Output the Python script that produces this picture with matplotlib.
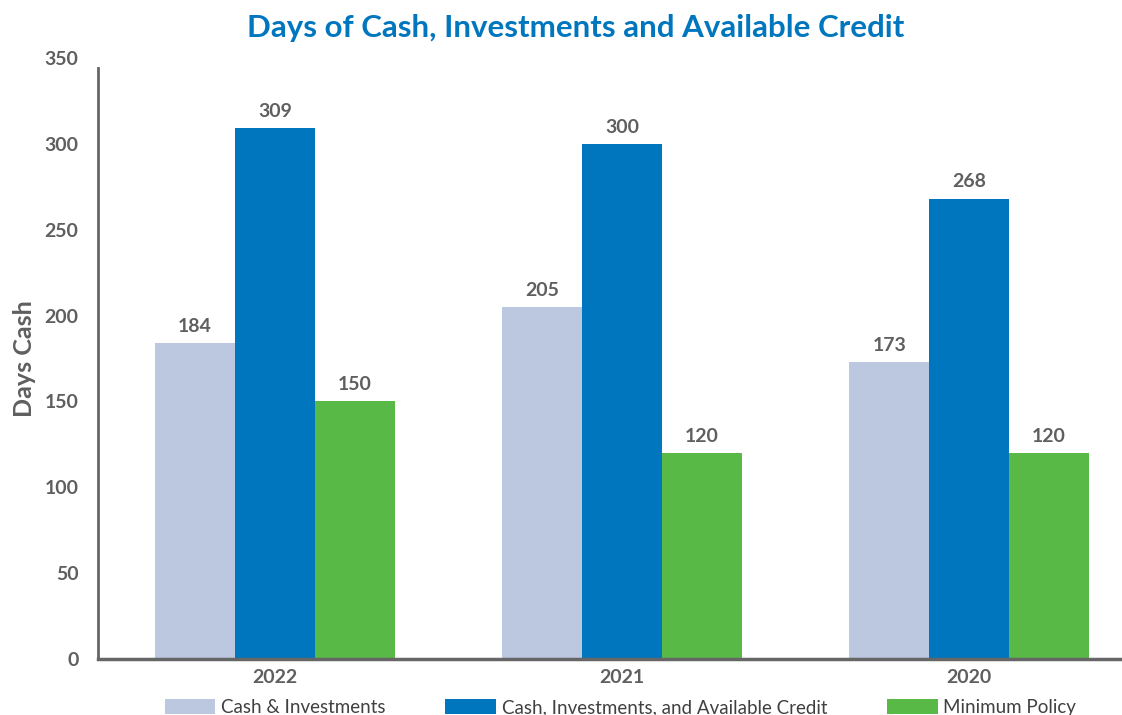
import numpy as np
import matplotlib.pyplot as plt

years = ['2022', '2021', '2020']
cash_inv = [184, 205, 173]
cash_inv_credit = [309, 300, 268]
min_policy = [150, 120, 120]
series_names = ['Cash & Investments', 'Cash, Investments, and Available Credit', 'Minimum Policy']
colors = ['#BCC8E0', '#0076BE', '#58B947']

plt.rcParams['font.family'] = ['Lato', 'DejaVu Sans']
grey = '#5f5f5f'

fig = plt.figure(figsize=(11.22, 7.15), dpi=100)
ax = fig.add_axes([0.0873, 0.0783, 0.9127, 0.8406])

x = np.arange(len(years))
w = 0.23
for i, (vals, name, c) in enumerate(zip([cash_inv, cash_inv_credit, min_policy], series_names, colors)):
    bars = ax.bar(x + (i - 1) * w, vals, width=w, color=c, label=name)
    for b, v in zip(bars, vals):
        ax.annotate(str(v), (b.get_x() + b.get_width() / 2, v), xytext=(0, 6),
                    textcoords='offset points', ha='center', va='bottom',
                    fontsize=14, fontweight='bold', color=grey)

ax.set_ylim(0, 350)
ax.set_xlim(-0.51, 2.44)
ax.set_yticks(range(0, 351, 50))
ax.set_xticks(x)
ax.set_xticklabels(years)
ax.tick_params(axis='both', length=0, labelsize=14, labelcolor=grey)
for lab in ax.get_xticklabels() + ax.get_yticklabels():
    lab.set_fontweight('bold')
ax.tick_params(axis='y', pad=14)
ax.tick_params(axis='x', pad=7)

for s in ['top', 'right']:
    ax.spines[s].set_visible(False)
ax.spines['left'].set_color('#666666')
ax.spines['left'].set_linewidth(2)
ax.spines['left'].set_bounds(0, 344)
ax.spines['bottom'].set_color('#666666')
ax.spines['bottom'].set_linewidth(2.5)

ax.set_ylabel('Days Cash', fontsize=18, fontweight='bold', color=grey, labelpad=6)
fig.suptitle('Days of Cash, Investments and Available Credit', x=0.513, y=0.98,
             fontsize=22.5, fontweight='bold', color='#0076BE')

fig.legend(loc='lower center', bbox_to_anchor=(0.553, -0.025), ncol=3, frameon=False,
           fontsize=13.5, labelcolor='#404040', handlelength=2.7, handleheight=0.85,
           handletextpad=0.3, columnspacing=3.2)

fig.savefig('out.png', dpi=100)
